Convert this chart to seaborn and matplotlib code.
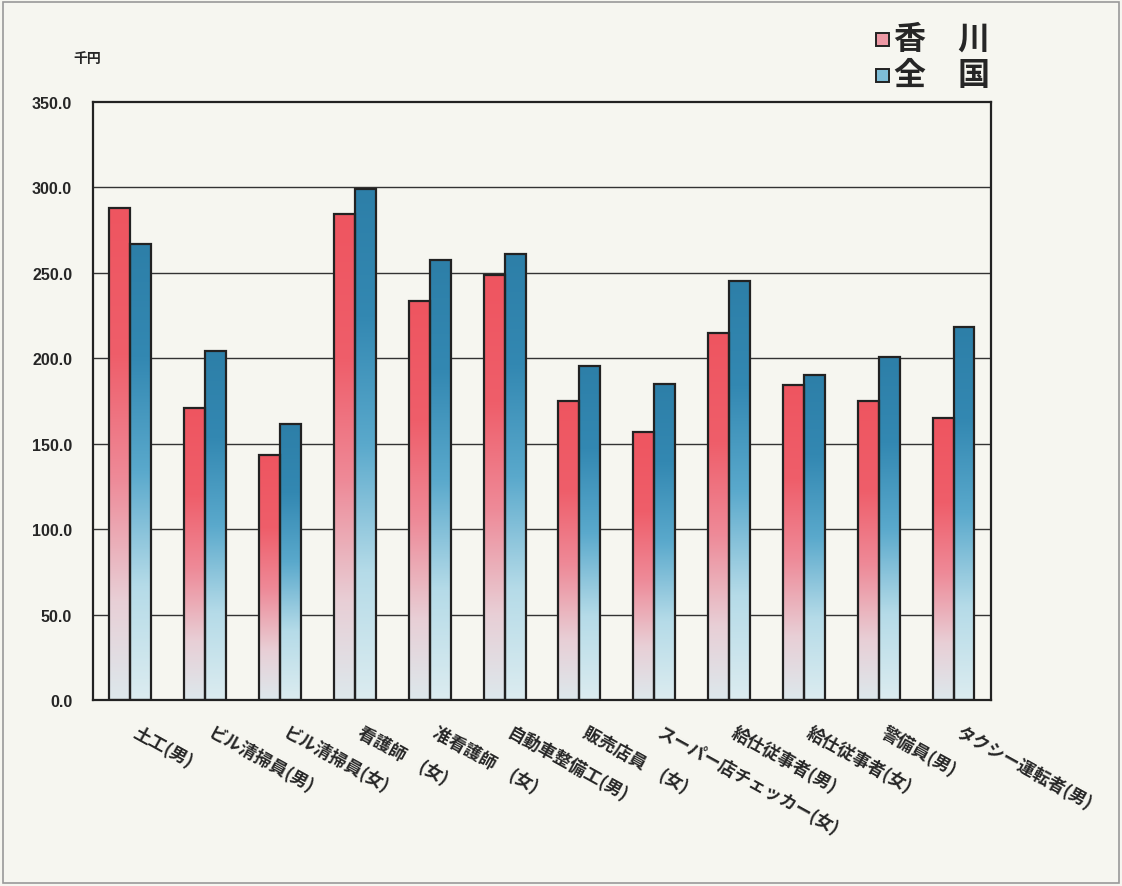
import numpy as np
import pandas as pd
import seaborn as sns
import matplotlib.pyplot as plt
import matplotlib.transforms as mtransforms
from matplotlib.colors import LinearSegmentedColormap
from matplotlib.patches import Rectangle

# %% data
jobs = ['土工(男)', 'ビル清掃員(男)', 'ビル清掃員(女)', '看護師　(女)', '准看護師　(女)',
        '自動車整備工(男)', '販売店員　(女)', 'スーパー店チェッカー(女)', '給仕従事者(男)',
        '給仕従事者(女)', '警備員(男)', 'タクシー運転者(男)']
kagawa = [288.0, 171.0, 143.4, 284.5, 233.5, 248.5, 175.2, 157.0, 215.0, 184.5, 175.0, 165.0]
zenkoku = [267.0, 204.0, 161.5, 299.0, 257.5, 261.0, 195.5, 185.0, 245.0, 190.5, 200.5, 218.5]
regions = ['香　川', '全　国']
yticks = [0, 50, 100, 150, 200, 250, 300, 350]

df = pd.DataFrame({
    '職種': jobs * 2,
    '地域': [regions[0]] * len(jobs) + [regions[1]] * len(jobs),
    '賃金': kagawa + zenkoku,
})

sns.set_style('white')
plt.rcParams['font.family'] = ['Noto Sans CJK JP', 'DejaVu Sans']

bg = '#f6f6f0'
fig = plt.figure(figsize=(11.22, 8.87), dpi=100, facecolor=bg)
ax = fig.add_axes([0.0829, 0.2097, 0.8003, 0.6742])
ax.set_facecolor(bg)

sns.barplot(data=df, x='職種', y='賃金', hue='地域', hue_order=regions,
            width=0.56, gap=0, legend=False, ax=ax, edgecolor='#222222',
            linewidth=1.6, saturation=1)

cmaps = {
    regions[0]: LinearSegmentedColormap.from_list('red', [
        (0.0, '#dde8ec'), (0.2, '#e8cfd6'), (0.45, '#ee8a98'),
        (0.7, '#ef5e6a'), (1.0, '#ee5560')]),
    regions[1]: LinearSegmentedColormap.from_list('blue', [
        (0.0, '#dcecf0'), (0.25, '#b5dbe8'), (0.5, '#5aa9cc'),
        (0.75, '#3388b2'), (1.0, '#2d7fa8')]),
}

grad = np.linspace(0, 1, 256).reshape(-1, 1)
n = len(jobs)
for i, p in enumerate(ax.patches):
    reg = regions[i // n]
    x0, y0 = p.get_x(), p.get_y()
    w, h = p.get_width(), p.get_height()
    p.set_facecolor('none')
    p.set_zorder(3)
    im = ax.imshow(grad, cmap=cmaps[reg], origin='lower', aspect='auto',
                   extent=[x0, x0 + w, y0, y0 + h], zorder=2)
    im.set_clip_path(p)

ax.set_xlim(-0.5, n - 0.5)
ax.set_ylim(0, 350)
ax.set_yticks(yticks)
ax.set_yticklabels([f'{v:.1f}' for v in yticks], fontsize=11.5,
                   fontweight='bold', family='Liberation Sans')
ax.tick_params(axis='y', length=0, pad=15)
for v in yticks[1:-1]:
    ax.axhline(v, color='#333333', lw=1.0, zorder=1)

ax.set_xticks(range(n))
ax.set_xticklabels(jobs, rotation=-29, ha='left', va='top',
                   rotation_mode='anchor', fontsize=12.5, fontweight='bold')
ax.tick_params(axis='x', length=0, pad=16)
shift = mtransforms.ScaledTranslation(0.09, 0, fig.dpi_scale_trans)
for lab in ax.get_xticklabels():
    lab.set_transform(lab.get_transform() + shift)
ax.set_xlabel('')
ax.set_ylabel('')
for s in ax.spines.values():
    s.set_visible(True)
    s.set_color('#222222')
    s.set_linewidth(1.6)

fig.text(0.078, 0.934, '千円', fontsize=10, fontweight='bold', ha='center', va='center')

# legend
leg_y = [0.955, 0.914]
for reg, yy in zip(regions, leg_y):
    c = cmaps[reg]
    fig.patches.append(Rectangle((0.781, yy - 0.008), 0.011, 0.015,
                                 transform=fig.transFigure, facecolor=c(0.4),
                                 edgecolor='#222222', lw=1.4))
    fig.text(0.797, yy, reg, fontsize=23, fontweight='bold', va='center', ha='left')

fig.patches.append(Rectangle((0.003, 0.003), 0.994, 0.994, transform=fig.transFigure,
                             facecolor='none', edgecolor='#999999', lw=1.2))

plt.savefig('out.png', dpi=100, facecolor=bg)
